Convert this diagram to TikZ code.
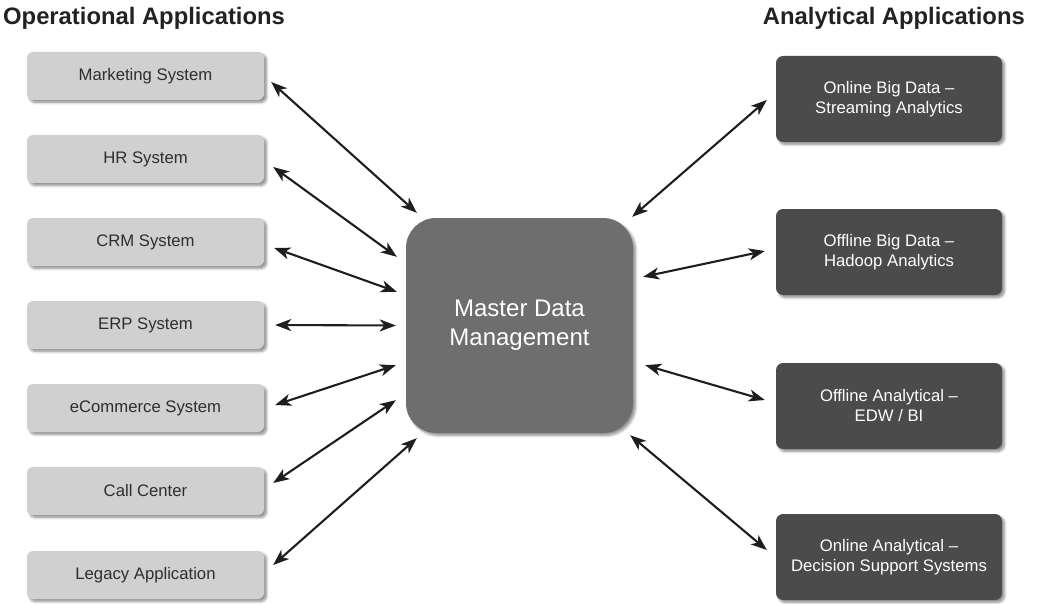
\documentclass[tikz,border=0pt]{standalone}
\usepackage{fontspec}
\setmainfont{Liberation Sans}
\usetikzlibrary{arrows.meta,shadows.blur}
\definecolor{opfill}{HTML}{D0D0D0}
\definecolor{optext}{HTML}{2E2E2E}
\definecolor{hubfill}{HTML}{6E6E6E}
\definecolor{anfill}{HTML}{4B4B4B}
\definecolor{arrowcol}{HTML}{1E1E1E}
\definecolor{headcol}{HTML}{222222}
\tikzset{
  boxshadow/.style={blur shadow={shadow xshift=2.5pt, shadow yshift=-2.5pt,
      shadow blur steps=6, shadow opacity=45, shadow blur radius=2.5pt}},
  opbox/.style={rectangle, rounded corners=6pt, fill=opfill, text=optext,
      minimum width=237pt, minimum height=48pt, boxshadow,
      font=\fontsize{16.7}{20}\selectfont},
  anbox/.style={rectangle, rounded corners=7pt, fill=anfill, text=white,
      minimum width=226pt, minimum height=86pt, boxshadow, align=center,
      font=\fontsize{16.7}{20}\selectfont},
  hubbox/.style={rectangle, rounded corners=30pt, fill=hubfill, text=white,
      minimum width=227pt, minimum height=215pt, boxshadow, align=center,
      font=\fontsize{24}{29}\selectfont},
  heading/.style={font=\bfseries\fontsize{23.8}{28}\selectfont, text=headcol,
      inner sep=0pt},
  link/.style={arrowcol, line width=2.1pt,
      {Stealth[length=16pt,width=12pt,inset=4.5pt]}-{Stealth[length=16pt,width=12pt,inset=4.5pt]}}
}
\begin{document}
\begin{tikzpicture}[x=1pt,y=1pt]
\useasboundingbox (0,0) rectangle (1038,-604);

% column headings
\node[heading, anchor=base west] (ophead) at (3,-25) {Operational Applications};
\node[heading, anchor=base east] (anhead) at (1025,-25) {Analytical Applications};

% operational systems
\node[opbox] (mkt)  at (145.5,-76)  {Marketing System};
\node[opbox] (hr)   at (145.5,-159) {HR System};
\node[opbox] (crm)  at (145.5,-242) {CRM System};
\node[opbox] (erp)  at (145.5,-325) {ERP System};
\node[opbox] (ecom) at (145.5,-408) {eCommerce System};
\node[opbox] (call) at (145.5,-491) {Call Center};
\node[opbox] (leg)  at (145.5,-575) {Legacy Application};

% hub
\node[hubbox] (mdm) at (519.5,-325.5) {Master Data\\Management};

% analytical systems
\node[anbox] (onl) at (889,-99)  {Online Big Data –\\Streaming Analytics};
\node[anbox] (obd) at (889,-252) {Offline Big Data –\\Hadoop Analytics};
\node[anbox] (edw) at (889,-406) {Offline Analytical –\\EDW / BI};
\node[anbox] (dss) at (889,-557) {Online Analytical –\\Decision Support Systems};

% links to operational systems
\draw[link] ([xshift=7pt,yshift=-6pt]mkt.east)  -- ([xshift=11pt,yshift=5pt]mdm.north west);
\draw[link] ([xshift=9pt,yshift=-8pt]hr.east)   -- ([xshift=-9pt,yshift=-39pt]mdm.north west);
\draw[link] ([xshift=10pt,yshift=-6pt]crm.east) -- ([xshift=-9pt,yshift=-74pt]mdm.north west);
\draw[link] ([xshift=11pt]erp.east)             -- ([xshift=-10pt]mdm.west);
\draw[link] ([xshift=11pt,yshift=3pt]ecom.east) -- ([xshift=-10pt,yshift=68pt]mdm.south west);
\draw[link] ([xshift=9pt,yshift=8pt]call.east)  -- ([xshift=-10pt,yshift=33pt]mdm.south west);
\draw[link] ([xshift=9pt,yshift=10pt]leg.east)  -- ([xshift=11pt,yshift=-5pt]mdm.south west);

% links to analytical systems
\draw[link] ([xshift=-1pt,yshift=1pt]mdm.north east)   -- ([xshift=-9pt,yshift=-1pt]onl.west);
\draw[link] ([xshift=10pt,yshift=-59pt]mdm.north east) -- ([xshift=-11pt,yshift=1pt]obd.west);
\draw[link] ([xshift=12pt,yshift=68pt]mdm.south east)  -- ([xshift=-11pt,yshift=6pt]edw.west);
\draw[link] ([xshift=-3pt,yshift=-2pt]mdm.south east)  -- ([xshift=-9pt,yshift=7pt]dss.west);
\end{tikzpicture}
\end{document}
